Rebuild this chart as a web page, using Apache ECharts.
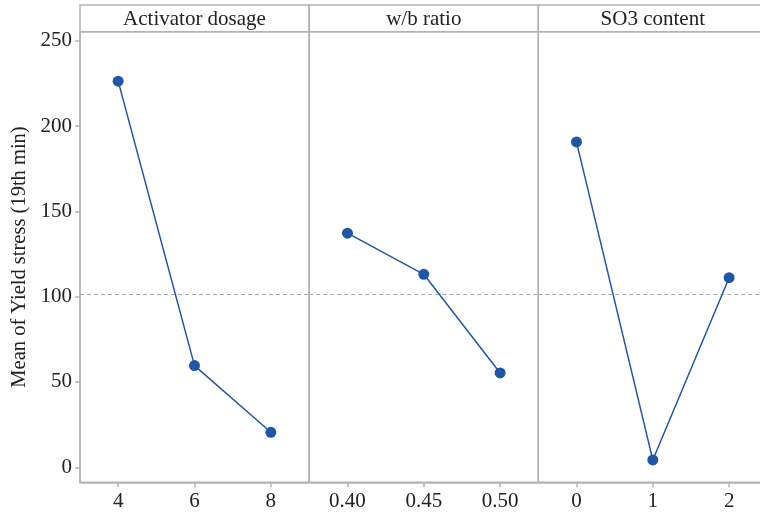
<!DOCTYPE html>
<html><head><meta charset="utf-8">
<script src="https://cdn.jsdelivr.net/npm/echarts@6/dist/echarts.min.js"></script>
<style>html,body{margin:0;padding:0;background:#fff}#c{width:760px;height:516px}</style>
</head><body><div id="c"></div>
<script>
const panelTitles = ['Activator dosage', 'w/b ratio', 'SO3 content'];
const activatorCats = ['4', '6', '8'];
const wbCats = ['0.40', '0.45', '0.50'];
const so3Cats = ['0', '1', '2'];
const activatorMeans = [226.3, 59.6, 20.5];
const wbMeans = [137.2, 113.1, 55.3];
const so3Means = [190.7, 4.3, 111.1];
const grandMean = 101.5;
const yTicks = [0, 50, 100, 150, 200, 250];
const yLabel = 'Mean of Yield stress (19th min)';

const cats = [activatorCats, wbCats, so3Cats];
const vals = [activatorMeans, wbMeans, so3Means];

const FONT = '"Liberation Serif", "Times New Roman", serif';
const GRAY = '#b3b3b3';
const BLUE = '#1f57a8';
const lefts = [80, 309.3, 538.3];
const W = 229;
const TOP = 31.7, BOTTOM = 33.7;
const YMIN = -8.8, YMAX = 255.3;

const chart = echarts.init(document.getElementById('c'), null, {renderer: 'canvas'});
const grids = [], xAxes = [], yAxes = [], series = [];
for (let i = 0; i < 3; i++) {
  grids.push({left: lefts[i], width: W, top: TOP, bottom: BOTTOM, outerBoundsMode: 'none', containLabel: false,
    show: true, borderColor: GRAY, borderWidth: 1.5, backgroundColor: 'transparent'});
  xAxes.push({
    type: 'category', gridIndex: i, data: cats[i], boundaryGap: true,
    axisLine: {show: true, onZero: false, lineStyle: {color: GRAY, width: 1.5}},
    axisTick: {show: true, alignWithLabel: true, length: 5, lineStyle: {color: GRAY, width: 1.5}},
    axisLabel: {color: '#222', fontFamily: FONT, fontSize: 21, margin: 9},
    splitLine: {show: false}
  });
  yAxes.push({
    type: 'value', gridIndex: i, min: YMIN, max: YMAX,
    name: i === 0 ? yLabel : '', nameLocation: 'middle', nameGap: 50,
    nameTextStyle: {color: '#222', fontFamily: FONT, fontSize: 20.5},
    axisLine: {show: i === 0, onZero: false, lineStyle: {color: GRAY, width: 1.5}},
    axisTick: {show: i === 0, length: 5, customValues: yTicks, lineStyle: {color: GRAY, width: 1.5}},
    axisLabel: {show: i === 0, customValues: yTicks, color: '#222', fontFamily: FONT, fontSize: 21, margin: 8},
    splitLine: {show: false}
  });
  series.push({
    type: 'line', xAxisIndex: i, yAxisIndex: i, data: vals[i],
    symbol: 'circle', symbolSize: 11,
    lineStyle: {color: BLUE, width: 1.5},
    itemStyle: {color: BLUE},
    z: 5,
    markLine: {
      silent: true, symbol: 'none', label: {show: false},
      lineStyle: {color: '#a8a8a8', type: [4, 3], width: 1.2},
      data: [{yAxis: grandMean}]
    }
  });
}

const graphics = [];
for (let i = 0; i < 3; i++) {
  graphics.push({
    type: 'rect', shape: {x: lefts[i], y: 5, width: W, height: TOP - 5},
    style: {fill: '#fff', stroke: GRAY, lineWidth: 1.5}, z: 10
  });
  graphics.push({
    type: 'text', x: lefts[i] + W / 2, y: (5 + TOP) / 2 + 1,
    style: {text: panelTitles[i], fill: '#222', font: '21px ' + FONT, align: 'center', verticalAlign: 'middle'}, z: 11
  });
}

chart.setOption({
  animation: false,
  backgroundColor: '#fff',
  grid: grids, xAxis: xAxes, yAxis: yAxes, series: series,
  graphic: graphics
});
</script></body></html>
